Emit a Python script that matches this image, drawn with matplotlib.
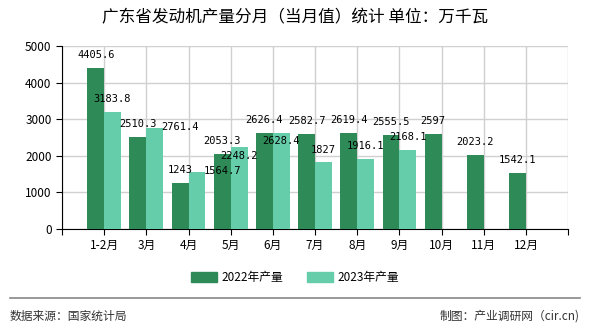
import matplotlib
matplotlib.use("Agg")
import matplotlib.pyplot as plt
from matplotlib.patches import Patch
from matplotlib.lines import Line2D
import numpy as np

plt.rcParams['font.family'] = ['Noto Sans CJK SC', 'DejaVu Sans']

months = ['1-2月', '3月', '4月', '5月', '6月', '7月', '8月', '9月', '10月', '11月', '12月']
prod_2022 = [4405.6, 2510.3, 1243, 2053.3, 2626.4, 2582.7, 2619.4, 2555.5, 2597, 2023.2, 1542.1]
prod_2023 = [3183.8, 2761.4, 1564.7, 2248.2, 2628.4, 1827, 1916.1, 2168.1]

# label shift in pixels (the original chart nudges a few to dodge overlaps)
dy_2022 = [13] * len(prod_2022)
dx_2023 = [0, 25, 26, 0, 0, 0, 0, 0]
dy_2023 = [13, 1, 1, -9, -8, 12, 13, 13]

c22 = '#2e8b57'
c23 = '#66cdaa'

fig = plt.figure(figsize=(5.9, 3.3), dpi=100)
ax = fig.add_axes([0.105, 0.306, 0.858, 0.555])

x = np.arange(len(months))
w = 0.4
x22 = x - w / 2
x23 = x[:len(prod_2023)] + w / 2
ax.bar(x22, prod_2022, width=w, color=c22, zorder=3)
ax.bar(x23, prod_2023, width=w, color=c23, zorder=3)

for xi, v, d in zip(x22, prod_2022, dy_2022):
    ax.annotate(f'{v:g}', (xi, v), xytext=(0, d), textcoords='offset pixels',
                ha='center', va='center', fontsize=7.5, family='DejaVu Sans Mono', zorder=4)
for xi, v, dx, d in zip(x23, prod_2023, dx_2023, dy_2023):
    ax.annotate(f'{v:g}', (xi, v), xytext=(dx, d), textcoords='offset pixels',
                ha='center', va='center', fontsize=7.5, family='DejaVu Sans Mono', zorder=4)

ax.set_xlim(-1, len(months))
ax.set_ylim(0, 5000)
ax.set_yticks(range(0, 5001, 1000))
ax.set_xticks(np.arange(-1, len(months) + 1))
ax.set_xticklabels([''] + months + [''])
ax.tick_params(axis='both', labelsize=8.5, length=4, color='black')
ax.grid(True, color='#d0d0d0', linewidth=1, zorder=0)
ax.spines['top'].set_visible(False)
ax.spines['right'].set_visible(False)
ax.spines['left'].set_color('black')
ax.spines['bottom'].set_color('black')

fig.text(0.5, 0.945, '广东省发动机产量分月（当月值）统计 单位：万千瓦', ha='center', va='center', fontsize=12)

handles = [Patch(color=c22, label='2022年产量'), Patch(color=c23, label='2023年产量')]
fig.legend(handles=handles, loc='center', bbox_to_anchor=(0.5, 0.16), ncol=2, frameon=False,
           fontsize=8.5, handlelength=2.2, handleheight=0.9, columnspacing=2.0, handletextpad=0.4)

fig.add_artist(Line2D([0.017, 0.983], [0.097, 0.097], color='#888888', linewidth=1.2))
fig.text(0.017, 0.042, '数据来源：国家统计局', ha='left', va='center', fontsize=8.5, color='#333333')
fig.text(0.983, 0.042, '制图：产业调研网（cir.cn)', ha='right', va='center', fontsize=8.5, color='#333333')

fig.savefig('out.png', dpi=100)
